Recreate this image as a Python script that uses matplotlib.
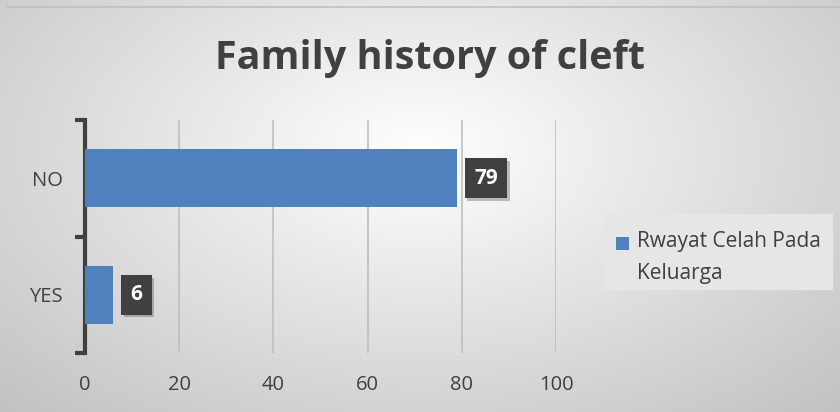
import numpy as np
import matplotlib
matplotlib.use("Agg")
import matplotlib.pyplot as plt
from matplotlib import patheffects as pe
from matplotlib.patches import Rectangle

categories = ["YES", "NO"]
values = [6, 79]
series_name = "Rwayat Celah Pada\nKeluarga"
title = "Family history of cleft"
xticks = [0, 20, 40, 60, 80, 100]

plt.rcParams['font.family'] = ['Open Sans', 'DejaVu Sans']

W, H = 840, 412
fig = plt.figure(figsize=(W / 100, H / 100), dpi=100)

# radial gradient background
bg = fig.add_axes([0, 0, 1, 1], zorder=-10)
yy, xx = np.mgrid[0:H, 0:W]
cx, cy = 420, 150
r = np.sqrt(((xx - cx) / 560.0) ** 2 + ((yy - cy) / 330.0) ** 2)
v = 1.0 - 0.22 * np.clip(r, 0, 1.2)
img = np.dstack([v, v, v])
bg.imshow(img, extent=[0, W, H, 0], aspect='auto')
bg.plot([7, W], [7, 7], color='#c0c0c0', lw=1.2)
bg.add_patch(Rectangle((604, 214), 229, 76, facecolor='#e6e6e6', edgecolor='none'))
bg.set_xlim(0, W)
bg.set_ylim(H, 0)
bg.axis('off')

ax = fig.add_axes([85 / W, 1 - 353 / H, (556 - 85) / W, (353 - 120) / H])
ax.patch.set_alpha(0)
y = np.arange(len(categories))
bars = ax.barh(y, values, height=0.5, color='#4f81bd', zorder=3, label=series_name)
ax.set_xlim(0, 100)
ax.set_ylim(-0.5, 1.5)
ax.set_xticks(xticks)
ax.set_yticks(y)
ax.set_yticklabels(categories)
ax.xaxis.grid(True, color='#bfbfbf', lw=1.2, zorder=0)
for s in ['top', 'right', 'bottom']:
    ax.spines[s].set_visible(False)
ax.spines['left'].set_color('#404040')
ax.spines['left'].set_linewidth(3)
ax.tick_params(axis='x', length=0, labelsize=14.5, colors='#404040', pad=16)
ax.tick_params(axis='y', length=0, labelsize=14.5, colors='#404040', pad=16)
ax.set_yticks([-0.5, 0.5, 1.5], minor=True)
ax.tick_params(axis='y', which='minor', length=7, width=3, color='#404040')

for yi, val in zip(y, values):
    t = ax.annotate(str(val), xy=(val, yi), xytext=(17, 0), textcoords='offset pixels',
                    ha='left', va='center', color='white', fontsize=15, fontweight='bold',
                    zorder=5,
                    bbox=dict(boxstyle='square,pad=0.45', fc='#404040', ec='none'))
    t.get_bbox_patch().set_path_effects([pe.SimplePatchShadow(offset=(2, -2), alpha=0.25), pe.Normal()])

fig.text(430 / W, 1 - 58 / H, title, ha='center', va='center', fontsize=28.5,
         fontweight='bold', color='#404040')

leg = fig.legend(handles=[bars], labels=[series_name], loc='center left',
                 bbox_to_anchor=(606 / W, 1 - 257.5 / H), frameon=False, fontsize=15,
                 handlelength=0.62, handleheight=0.62, handletextpad=0.35,
                 borderpad=0, labelcolor='#404040')
leg.get_texts()[0].set_linespacing(1.65)
h = leg.legend_handles[0]
h.set_y(h.get_y() + 10.4)

fig.savefig('out.png', dpi=100)
